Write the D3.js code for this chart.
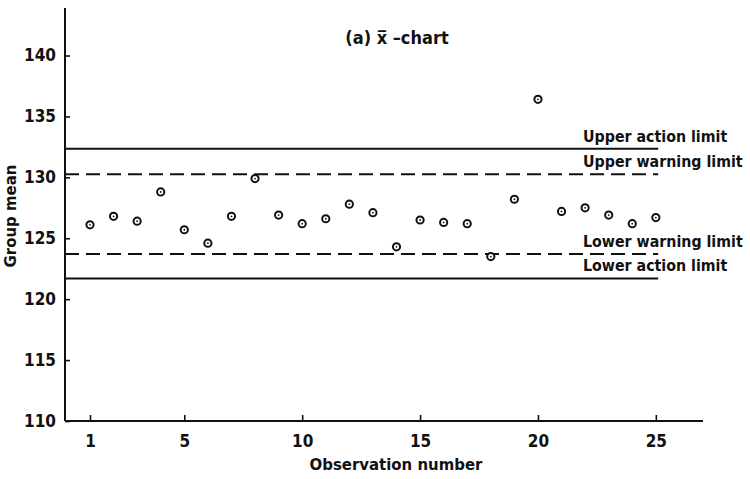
<!DOCTYPE html>
<html>
<head>
<meta charset="utf-8">
<script src="https://cdn.jsdelivr.net/npm/d3@7"></script>
<style>
  html, body { margin: 0; padding: 0; background: #fff; }
  svg { display: block; }
  text { font-family: "DejaVu Sans Condensed", "DejaVu Sans", sans-serif; font-weight: bold; fill: #111; }
</style>
</head>
<body>
<svg id="chart" width="750" height="479"></svg>
<script>
// ---- data ----
const observations = [1,2,3,4,5,6,7,8,9,10,11,12,13,14,15,16,17,18,19,20,21,22,23,24,25];
const groupMeans = [126.1,126.8,126.4,128.8,125.7,124.6,126.8,129.9,126.9,126.2,126.6,127.8,127.1,124.3,126.5,126.3,126.2,123.5,128.2,136.4,127.2,127.5,126.9,126.2,126.7];
const limitNames = ["Upper action limit","Upper warning limit","Lower warning limit","Lower action limit"];
const limitValues = [132.35, 130.25, 123.7, 121.7];
const limitDashed = [false, true, true, false];
const xTicks = [1,5,10,15,20,25];
const yTicks = [110,115,120,125,130,135,140];
const titleText = "(a) x\u0305 \u2013chart";
const xLabel = "Observation number";
const yLabel = "Group mean";

// ---- layout ----
const svg = d3.select("#chart");
const x = d3.scaleLinear().domain([-0.06, 27.0]).range([65, 703]);
const y = d3.scaleLinear().domain([110, 143.9]).range([421, 8]);
const ink = "#111";

// axes
const xAxis = d3.axisBottom(x).tickValues(xTicks).tickSize(-6).tickPadding(14).tickFormat(d3.format("d"));
const gx = svg.append("g").attr("transform", `translate(0,${y(110)})`).call(xAxis);
gx.select(".domain").attr("d", `M${x.range()[0]},0H${x.range()[1]}`).attr("stroke", ink).attr("stroke-width", 2);
gx.selectAll(".tick line").attr("stroke", ink).attr("stroke-width", 1.6);
gx.selectAll(".tick text").style("font-size", "17px").attr("fill", ink);

const yAxis = d3.axisLeft(y).tickValues(yTicks).tickSize(-5).tickPadding(9).tickFormat(d3.format("d"));
const gy = svg.append("g").attr("transform", `translate(${x(-0.06)},0)`).call(yAxis);
gy.select(".domain").attr("d", `M0,${y.range()[1]}V${y.range()[0]}`).attr("stroke", ink).attr("stroke-width", 2);
gy.selectAll(".tick line").attr("stroke", ink).attr("stroke-width", 1.6);
gy.selectAll(".tick text").style("font-size", "17px").attr("fill", ink);

// limit lines
const limits = limitNames.map((n, i) => ({name: n, value: limitValues[i], dashed: limitDashed[i]}));
svg.append("g").selectAll("line").data(limits).join("line")
  .attr("x1", x(-0.06)).attr("x2", x(25.1))
  .attr("y1", d => y(d.value)).attr("y2", d => y(d.value))
  .attr("stroke", ink).attr("stroke-width", 2)
  .attr("stroke-dasharray", d => d.dashed ? "14,7" : null);

// limit labels (sit just above their lines)
svg.append("g").selectAll("text").data(limits).join("text")
  .attr("x", 583)
  .attr("y", d => y(d.value) - 7)
  .style("font-size", "15.8px")
  .text(d => d.name);

// points
const pts = observations.map((o, i) => ({o, v: groupMeans[i]}));
const gp = svg.append("g");
gp.selectAll("circle.ring").data(pts).join("circle").attr("class", "ring")
  .attr("cx", d => x(d.o)).attr("cy", d => y(d.v)).attr("r", 3.6)
  .attr("fill", "#fff").attr("stroke", ink).attr("stroke-width", 2);
gp.selectAll("circle.dot").data(pts).join("circle").attr("class", "dot")
  .attr("cx", d => x(d.o)).attr("cy", d => y(d.v)).attr("r", 0.9)
  .attr("fill", ink);

// title
svg.append("text").attr("x", 397).attr("y", 44).attr("text-anchor", "middle")
  .style("font-size", "18px").text(titleText);

// axis labels
svg.append("text").attr("x", 396).attr("y", 470).attr("text-anchor", "middle")
  .style("font-size", "16.6px").text(xLabel);
svg.append("text").attr("transform", `translate(16,216) rotate(-90)`)
  .attr("text-anchor", "middle").style("font-size", "16.6px").text(yLabel);
</script>
</body>
</html>
